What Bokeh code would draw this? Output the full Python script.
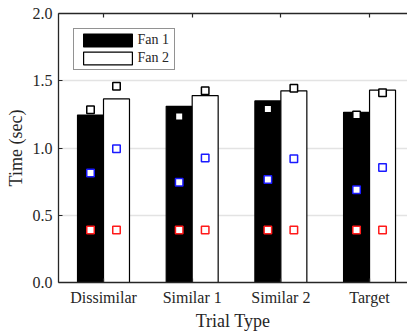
from bokeh.plotting import figure
from bokeh.models import (Range1d, LinearAxis, FixedTicker, ColumnDataSource,
                          Legend, LegendItem)
from bokeh.core.properties import value
from bokeh.embed import file_html
from bokeh.resources import INLINE

# Mean response times per trial type (bars) and per-condition markers
categories = ["Dissimilar", "Similar 1", "Similar 2", "Target"]
fan1_time = [1.245, 1.31, 1.35, 1.265]
fan2_time = [1.365, 1.39, 1.425, 1.43]

fan1_black = [1.285, 1.235, 1.29, 1.245]
fan2_black = [1.46, 1.425, 1.445, 1.41]
fan1_blue = [0.815, 0.745, 0.765, 0.69]
fan2_blue = [0.995, 0.925, 0.92, 0.855]
fan1_red = [0.39, 0.39, 0.39, 0.39]
fan2_red = [0.39, 0.39, 0.39, 0.39]

series_names = ["Fan 1", "Fan 2"]
y_ticks = [0.0, 0.5, 1.0, 1.5, 2.0]

FONT = "Liberation Serif"
TEXT = "#262626"
BAR_W = 0.293
OFFSET = BAR_W / 2

X0, X1 = -0.5075, 3.428
pos = list(range(len(categories)))
x1 = [i - OFFSET for i in pos]
x2 = [i + OFFSET for i in pos]

p = figure(width=407, height=333, output_backend="svg", toolbar_location=None,
           x_range=Range1d(X0, X1), y_range=Range1d(0, 2.0),
           x_axis_location="below")
p.min_border_left = 58
p.min_border_right = 0
p.min_border_top = 13
p.min_border_bottom = 0
p.outline_line_color = None
p.background_fill_color = "white"
p.border_fill_color = "white"

# horizontal grid only
p.xgrid.visible = False
p.ygrid.ticker = FixedTicker(ticks=[0.5, 1.0, 1.5])
p.ygrid.grid_line_color = "#e3e3e3"
p.ygrid.grid_line_width = 1.5

src1 = ColumnDataSource(dict(x=x1, top=fan1_time))
src2 = ColumnDataSource(dict(x=x2, top=fan2_time))
r1 = p.vbar(x="x", top="top", width=BAR_W, source=src1,
            fill_color="black", line_color="black", line_width=1.2)
r2 = p.vbar(x="x", top="top", width=BAR_W, source=src2,
            fill_color="white", line_color="black", line_width=1.2)

def markers(xs, ys, color):
    p.scatter(xs, ys, marker="square", size=7.5, fill_color="white",
              line_color=color, line_width=1.5)

markers(x1, fan1_black, "black")
markers(x2, fan2_black, "black")
markers(x1, fan1_blue, "#1a1aff")
markers(x2, fan2_blue, "#1a1aff")
markers(x1, fan1_red, "#ff1a1a")
markers(x2, fan2_red, "#ff1a1a")

# axes
def style_axis(ax):
    ax.axis_line_color = TEXT
    ax.axis_line_width = 1.3
    ax.major_tick_line_color = TEXT
    ax.major_tick_line_width = 1.2
    ax.major_tick_in = 4
    ax.major_tick_out = 0
    ax.minor_tick_line_color = None
    ax.major_label_text_font = FONT
    ax.major_label_text_color = TEXT
    ax.axis_label_text_font = FONT
    ax.axis_label_text_color = TEXT
    ax.axis_label_text_font_style = "normal"

xa = p.xaxis[0]
style_axis(xa)
xa.ticker = FixedTicker(ticks=pos)
xa.major_label_overrides = {i: c for i, c in enumerate(categories)}
xa.major_label_text_font_size = "16px"
xa.major_label_standoff = 6
xa.axis_label = "Trial Type"
xa.axis_label_text_font_size = "18px"
xa.axis_label_standoff = 2

ya = p.yaxis[0]
style_axis(ya)
ya.ticker = FixedTicker(ticks=y_ticks)
ya.major_label_overrides = {t: f"{t:.1f}" for t in y_ticks}
ya.major_label_text_font_size = "16px"
ya.major_label_standoff = 6
ya.axis_label = "Time (sec)"
ya.axis_label_text_font_size = "18px"
ya.axis_label_standoff = 4

# top frame edge with inward ticks, no labels
top = LinearAxis(ticker=FixedTicker(ticks=pos))
style_axis(top)
top.major_label_overrides = {i: "" for i in pos}
top.major_label_standoff = 0
top.major_label_text_font_size = "1px"
p.add_layout(top, "above")

# legend frame and swatches with a see-through background; the serif item
# names are drawn as a text glyph beside the swatches
legend = Legend(items=[LegendItem(label=" ", renderers=[r1]),
                       LegendItem(label=" ", renderers=[r2])],
                location="top_left")
legend.margin = 15
legend.padding = 3
legend.spacing = 2
legend.glyph_width = 61
legend.glyph_height = 16
legend.label_height = 16
legend.label_width = 33
legend.label_standoff = 0
legend.label_text_font_size = "9px"
legend.border_line_color = TEXT
legend.border_line_width = 1.2
legend.background_fill_alpha = 0
p.add_layout(legend, "center")

# frame geometry used to place the item names beside the swatches
FRAME_LEFT, FRAME_TOP, FRAME_BOTTOM = 58, 13, 284
px_per_x = (407 - FRAME_LEFT) / (X1 - X0)
px_per_y = (FRAME_BOTTOM - FRAME_TOP) / 2.0
name_x = X0 + (137 - FRAME_LEFT) / px_per_x
name_src = ColumnDataSource(dict(
    x=[name_x] * len(series_names),
    y=[(FRAME_BOTTOM - (39.5 + 18 * k)) / px_per_y
       for k in range(len(series_names))],
    text=series_names))
p.text(x="x", y="y", text="text", source=name_src,
       text_font=value(FONT), text_font_size="14px", text_color=TEXT,
       text_baseline="middle", text_align="left")

open("out.html", "w").write(file_html(p, INLINE))
